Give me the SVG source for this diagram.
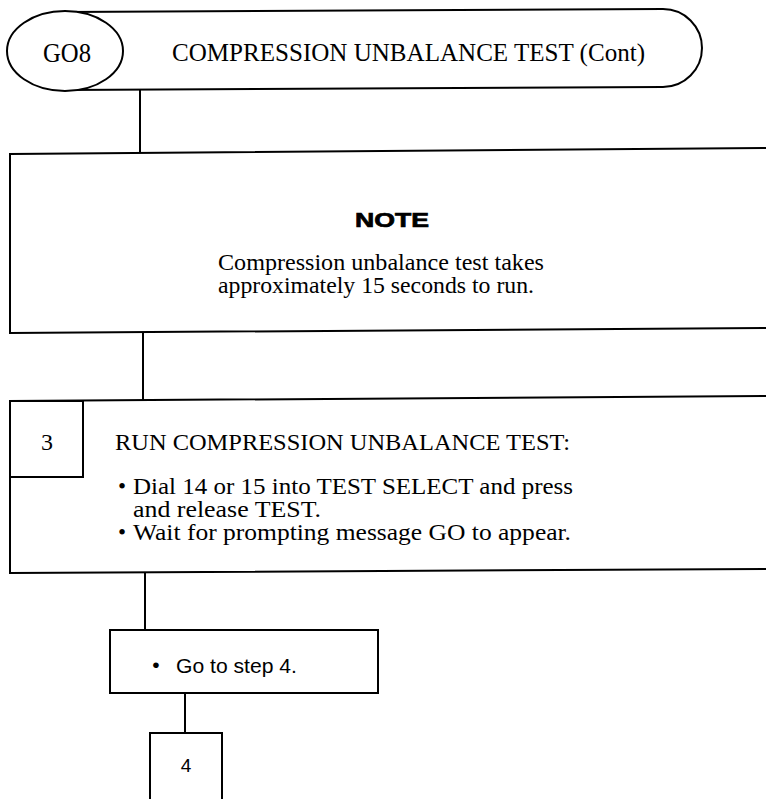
<svg xmlns="http://www.w3.org/2000/svg" width="766" height="799" viewBox="0 0 766 799">
<style>
.ln{fill:none;stroke:#000;stroke-width:2}
.bx{fill:#fff;stroke:#000;stroke-width:2}
.sf{font-family:"Liberation Serif","Times New Roman",serif;font-size:23px;fill:#000}
.ss{font-family:"Liberation Sans",Arial,sans-serif;font-size:21px;fill:#000}
.nt{font-family:"Liberation Sans",Arial,sans-serif;font-size:20px;font-weight:bold;fill:#000;stroke:#000;stroke-width:0.7}
</style>
<rect width="766" height="799" fill="#fff"/>
<g id="connectors">
<line class="ln" x1="140" y1="89" x2="140" y2="153"/>
<line class="ln" x1="143" y1="333" x2="143" y2="400"/>
<line class="ln" x1="145" y1="572" x2="145" y2="630"/>
<line class="ln" x1="185" y1="693" x2="185" y2="733"/>
</g>
<g id="header">
<path class="bx" d="M65 12 L663 9 A39 39 0 0 1 663 87 L65 90 Z"/>
<ellipse class="bx" cx="65" cy="51" rx="58" ry="40"/>
<text class="sf" x="67" y="62" text-anchor="middle" style="font-size:28px" textLength="48" lengthAdjust="spacingAndGlyphs">GO8</text>
<text class="sf" x="172" y="61" style="font-size:25px" textLength="473" lengthAdjust="spacingAndGlyphs">COMPRESSION UNBALANCE TEST (Cont)</text>
</g>
<g id="note">
<path class="ln" d="M766 148 L10 154 L10 333 L766 328"/>
<text class="nt" x="355" y="227" textLength="74" lengthAdjust="spacingAndGlyphs">NOTE</text>
<text class="sf" x="218" y="270" textLength="326" lengthAdjust="spacingAndGlyphs">Compression unbalance test takes</text>
<text class="sf" x="218" y="293" textLength="316" lengthAdjust="spacingAndGlyphs">approximately 15 seconds to run.</text>
</g>
<g id="step3">
<path class="ln" d="M766 396 L10 401 L10 573 L766 569"/>
<path class="ln" d="M10 401 L83 401 L83 477 L10 477"/>
<text class="sf" x="47" y="450" text-anchor="middle" style="font-size:24px">3</text>
<text class="sf" x="115" y="450" style="font-size:24px" textLength="455" lengthAdjust="spacingAndGlyphs">RUN COMPRESSION UNBALANCE TEST:</text>
<text class="sf" x="122" y="494" text-anchor="middle">•</text>
<text class="sf" x="133" y="494" textLength="440" lengthAdjust="spacingAndGlyphs">Dial 14 or 15 into TEST SELECT and press</text>
<text class="sf" x="133" y="517" textLength="188" lengthAdjust="spacingAndGlyphs">and release TEST.</text>
<text class="sf" x="122" y="540" text-anchor="middle">•</text>
<text class="sf" x="133" y="540" textLength="438" lengthAdjust="spacingAndGlyphs">Wait for prompting message GO to appear.</text>
</g>
<g id="goto">
<rect class="bx" x="110" y="630" width="268" height="63"/>
<text class="ss" x="156" y="672" text-anchor="middle">•</text>
<text class="ss" x="176" y="673" textLength="121" lengthAdjust="spacingAndGlyphs">Go to step 4.</text>
</g>
<g id="step4">
<path class="bx" d="M150 800 L150 733 L222 733 L222 800"/>
<text class="ss" x="186" y="772" text-anchor="middle" style="font-size:19px">4</text>
</g>
</svg>
